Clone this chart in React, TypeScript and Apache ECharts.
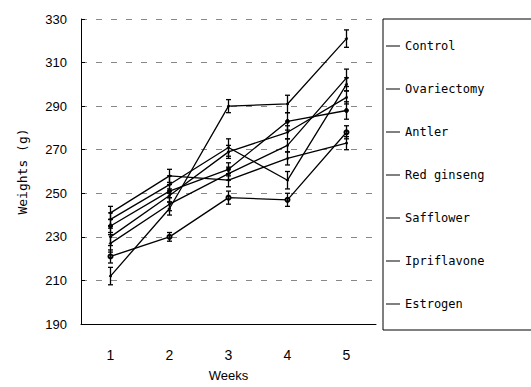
import React, { useEffect, useRef } from "react";
import * as echarts from "echarts";

const weeks = ["1", "2", "3", "4", "5"];
const seriesNames = ["Control", "Ovariectomy", "Antler", "Red ginseng", "Safflower", "Ipriflavone", "Estrogen"];

const control = [221, 230, 248, 247, 278];
const ovariectomy = [212, 243, 290, 291, 321];
const antler = [241, 258, 256, 266, 273];
const redGinseng = [238, 254, 271, 256, 300];
const safflower = [235, 251, 261, 283, 288];
const ipriflavone = [230, 249, 269, 278, 294];
const estrogen = [227, 245, 259, 272, 303];

const controlErr = [3, 2, 3, 3, 3];
const ovariectomyErr = [4, 3, 3, 4, 4];
const antlerErr = [3, 3, 3, 3, 3];
const redGinsengErr = [3, 4, 4, 4, 3];
const safflowerErr = [3, 3, 3, 4, 4];
const ipriflavoneErr = [4, 3, 3, 3, 3];
const estrogenErr = [4, 3, 3, 3, 4];

const yTicks = [190, 210, 230, 250, 270, 290, 310, 330];

const values = [control, ovariectomy, antler, redGinseng, safflower, ipriflavone, estrogen];
const errors = [controlErr, ovariectomyErr, antlerErr, redGinsengErr, safflowerErr, ipriflavoneErr, estrogenErr];
const symbols = ["emptyCircle", "circle", "circle", "circle", "circle", "circle", "circle"];
const symbolSizes = [4, 2, 2, 2, 4, 2, 2];

const FONT = "'Liberation Sans Narrow', 'Liberation Sans', Arial, sans-serif";
const MONO = "'DejaVu Sans Mono', 'Liberation Mono', monospace";

export default function App() {
  const ref = useRef<HTMLDivElement>(null);
  useEffect(() => {
    if (!ref.current) return;
    const chart = echarts.init(ref.current, null, { renderer: "svg" });
    const lineSeries = seriesNames.map((name, i) => ({
      name,
      type: "line",
      data: values[i],
      symbol: symbols[i],
      symbolSize: symbolSizes[i],
      showSymbol: true,
      itemStyle: { color: "#000", borderColor: "#000", borderWidth: 1 },
      lineStyle: { color: "#000", width: 1.3 },
      z: 3,
    }));
    const errSeries = seriesNames.map((name, i) => ({
      name: name + " err",
      type: "custom",
      data: values[i].map((v, j) => [j, v - errors[i][j], v + errors[i][j]]),
      encode: { x: 0, y: [1, 2] },
      z: 4,
      renderItem: (params: any, api: any) => {
        const lo = api.coord([api.value(0), api.value(1)]);
        const hi = api.coord([api.value(0), api.value(2)]);
        const h = 2.5;
        const style = { stroke: "#000", lineWidth: 1.3 };
        return {
          type: "group",
          children: [
            { type: "line", shape: { x1: lo[0], y1: lo[1], x2: hi[0], y2: hi[1] }, style },
            { type: "line", shape: { x1: lo[0] - h, y1: lo[1], x2: lo[0] + h, y2: lo[1] }, style },
            { type: "line", shape: { x1: hi[0] - h, y1: hi[1], x2: hi[0] + h, y2: hi[1] }, style },
          ],
        };
      },
    }));
    chart.setOption({
      animation: false,
      backgroundColor: "#fff",
      grid: { left: 81, right: 155, top: 19, bottom: 62 },
      legend: {
        data: seriesNames,
        orient: "vertical",
        left: 381,
        top: 35,
        itemGap: 31,
        itemWidth: 14,
        itemHeight: 1,
        icon: "rect",
        itemStyle: { color: "#000", borderWidth: 0 },
        textStyle: { fontSize: 12, color: "#000", fontFamily: MONO },
      },
      graphic: [
        {
          type: "polyline",
          shape: { points: [[560, 19], [383, 19], [383, 330], [560, 330]] },
          style: { fill: "none", stroke: "#000", lineWidth: 1 },
          z: 0,
        },
      ],
      xAxis: {
        type: "category",
        data: weeks,
        boundaryGap: true,
        name: "Weeks",
        nameLocation: "middle",
        nameGap: 45,
        nameTextStyle: { fontSize: 13, color: "#000", fontFamily: FONT },
        axisLine: { lineStyle: { color: "#000", width: 1 } },
        axisTick: { inside: true, length: 5, lineStyle: { color: "#000" } },
        axisLabel: { margin: 24, fontSize: 14, color: "#000", fontFamily: FONT },
        splitLine: { show: false },
      },
      yAxis: {
        type: "value",
        min: 190,
        max: 330,
        interval: 20,
        name: "Weights (g)",
        nameLocation: "middle",
        nameGap: 52,
        nameTextStyle: { fontSize: 13, color: "#000", fontFamily: MONO },
        axisLine: { show: true, lineStyle: { color: "#000", width: 1 } },
        axisTick: { show: true, inside: true, length: 4, lineStyle: { color: "#000" } },
        axisLabel: {
          margin: 14,
          fontSize: 13,
          color: "#000",
          fontFamily: FONT,
          formatter: (v: number) => (yTicks.includes(v) ? String(v) : ""),
        },
        splitLine: { show: true, lineStyle: { color: "#888", type: [6, 9], width: 1 } },
      },
      series: [...lineSeries, ...errSeries],
    });
    return () => chart.dispose();
  }, []);
  return (
    <div
      ref={ref}
      style={{ position: "fixed", left: 0, top: 0, width: 531, height: 387, overflow: "hidden" }}
    />
  );
}
